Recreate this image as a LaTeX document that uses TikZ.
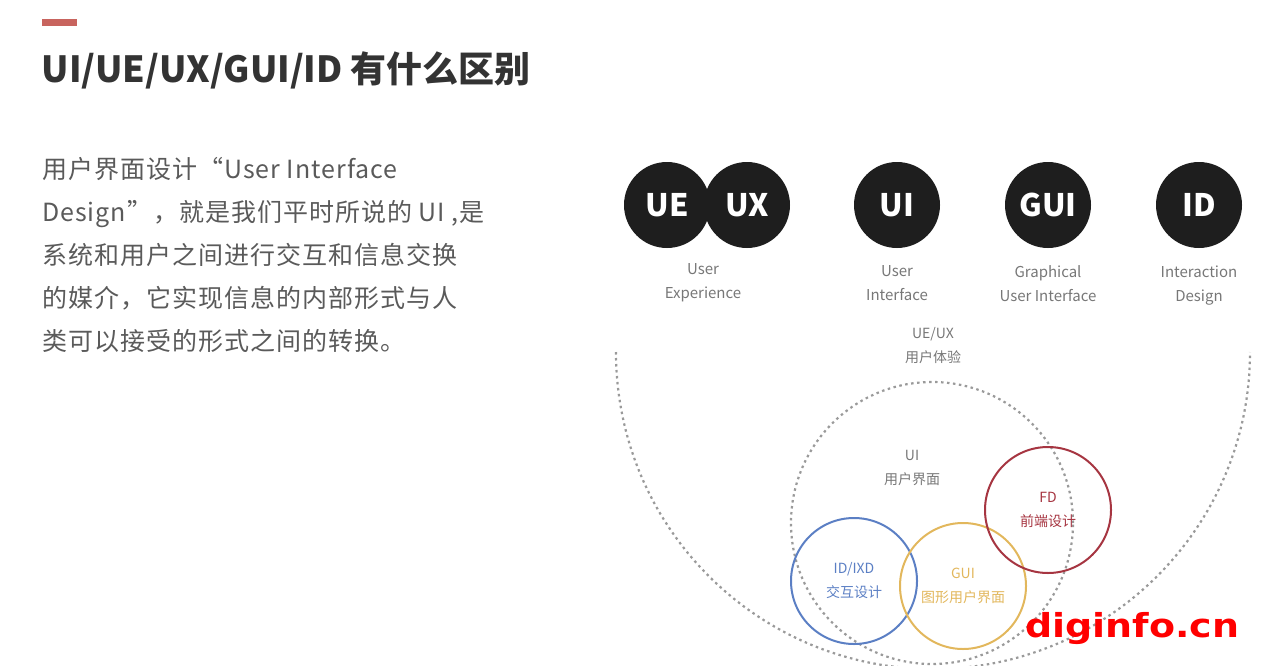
\documentclass[tikz,border=0pt]{standalone}
\usepackage{fontspec}
\setmainfont{Noto Sans CJK SC}
\newfontfamily\markfont{DejaVu Sans}[FakeStretch=1.15]
\usepackage{tikz}
\usetikzlibrary{positioning}
\definecolor{inkdark}{HTML}{1E1E1E}
\definecolor{titlegray}{HTML}{333333}
\definecolor{bodygray}{HTML}{5A5A5A}
\definecolor{capgray}{HTML}{777777}
\definecolor{dotgray}{HTML}{9A9A9A}
\definecolor{accent}{HTML}{C8645E}
\definecolor{ixdblue}{HTML}{5B7FC4}
\definecolor{guiyellow}{HTML}{E2B75C}
\definecolor{fdred}{HTML}{A63541}

\begin{document}
\begin{tikzpicture}[x=1pt,y=-1pt,
  badge/.style={circle, fill=inkdark, minimum size=86pt, inner sep=0pt, text=white, font=\bfseries\fontsize{31}{31}\selectfont},
  caption/.style={align=center, text=capgray, font=\fontsize{15}{24}\selectfont},
  ring/.style={circle, draw, line width=2pt, minimum size=126pt, inner sep=0pt},
  dots/.style={draw=dotgray, line width=2.2pt, dash pattern=on 2.5pt off 3.5pt},
  tag/.style={align=center, font=\fontsize{14}{24}\selectfont}]
\useasboundingbox (0,0) rectangle (1284,666);

% heading
\fill [accent] (42,19) rectangle (77,26);
\node (title) [anchor=west, text=titlegray, font=\bfseries\fontsize{36}{36}\selectfont] at (38,70) {UI/UE/UX/GUI/ID 有什么区别};

% left text
\node (intro) [anchor=north west, align=left, text=bodygray, inner sep=0pt, font=\addfontfeatures{LetterSpace=4}\fontsize{25}{43}\selectfont] at (42,157)
{用户界面设计“User Interface\\
Design”，就是我们平时所说的 UI ,是\\
系统和用户之间进行交互和信息交换\\
的媒介，它实现信息的内部形式与人\\
类可以接受的形式之间的转换。};

% top badges
\node (ue) [badge] at (667,205) {UE};
\node (ux) [badge] at (747,205) {UX};
\node (ui) [badge] at (897,205) {UI};
\node (gui) [badge] at (1048,205) {GUI};
\node (id) [badge] at (1199,205) {ID};

\node (uecap) [caption] at (703,283) {User\\Experience};
\node (uicap) [caption, below=14pt of ui] {User\\Interface};
\node (guicap) [caption, below=14pt of gui] {Graphical\\User Interface};
\node (idcap) [caption, below=14pt of id] {Interaction\\Design};

% nested circles
\draw [dots] (616,352) arc[start angle=180, end angle=0, radius=317];
\node (uxzone) [circle, dots, minimum size=282pt, inner sep=0pt] at (932,523) {};
\node (uxlabel) [tag, text=capgray] at (933,346) {UE/UX\\用户体验};
\node (uilabel) [tag, text=capgray] at (912,468) {UI\\用户界面};

\node (ixd) [ring, draw=ixdblue] at (854,581) {};
\node (guiring) [ring, draw=guiyellow] at (963,586) {};
\node (fd) [ring, draw=fdred] at (1048,510) {};

\node (ixdlabel) [tag, text=ixdblue] at (ixd) {ID/IXD\\交互设计};
\node (guilabel) [tag, text=guiyellow] at (guiring) {GUI\\图形用户界面};
\node (fdlabel) [tag, text=fdred] at (fd) {FD\\前端设计};

% watermark
\node (mark) [anchor=west, text=red, font=\markfont\bfseries\fontsize{33}{33}\selectfont] at (1022,629) {diginfo.cn};
\end{tikzpicture}
\end{document}
